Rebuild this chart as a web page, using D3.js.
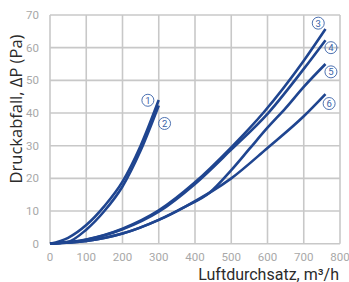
<!DOCTYPE html>
<html>
<head>
<meta charset="utf-8">
<script src="https://cdn.jsdelivr.net/npm/d3@7"></script>
<style>
body{margin:0;background:#fff;}
.grid line{stroke:#c8c8c8;stroke-width:1.6;}
.tick-label{font-family:Roboto,sans-serif;font-size:11.5px;fill:#a8a8a8;}
.curve{fill:none;stroke:#1f4590;stroke-width:2.6;}
.title{font-family:"Open Sans",sans-serif;fill:#2b2b2b;}
.tag circle{fill:none;stroke:#3a62a8;stroke-width:0.9;}
.tag text{font-family:Roboto,sans-serif;font-size:9.5px;fill:#3a62a8;}
</style>
</head>
<body>
<div id="chart"></div>
<script>
//data: airflow (m3/h) vs pressure drop (Pa)
var xTicks = [0,100,200,300,400,500,600,700,800],
	yTicks = [0,10,20,30,40,50,60,70];

var flow1 = [0,50,100,150,200,250,300],
	drop1 = [0,1.8,5.7,11.5,19,30,44];
var flow2 = [0,50,100,150,200,250,300],
	drop2 = [0,0.6,4.3,10,17.5,28.5,42.3];
var flow3 = [0,100,200,300,400,500,588,700,760],
	drop3 = [0,1.3,4.6,10.2,18.8,29.5,40,56,65.7];
var flow4 = [0,100,200,300,400,500,602,700,760],
	drop4 = [0,1.2,4.4,9.8,18.3,28.8,40,53.5,62.3];
var flow5 = [0,100,200,300,372,440,500,550,600,650,700,760],
	drop5 = [0,0.8,3.1,7.3,11.3,15.6,22.5,29,35.5,41.5,48,55];
var flow6 = [0,100,200,300,372,500,600,700,760],
	drop6 = [0,0.8,3.1,7.3,11.3,20,29.3,39,45.8];

var labels = ['1','2','3','4','5','6'];
//label anchor in data units
var labelX = [270,316,740,775,775,770],
	labelY = [43.9,36.8,67.5,60,52.6,42.9];

var series = [[flow1,drop1],[flow2,drop2],[flow3,drop3],[flow4,drop4],[flow5,drop5],[flow6,drop6]];

var W = 349, H = 282,
	m = {t:15,r:9,b:38.3,l:50},
	w = W - m.l - m.r,
	h = H - m.t - m.b;

var svg = d3.select('#chart').append('svg')
	.attr('width',W)
	.attr('height',H);
var plot = svg.append('g')
	.attr('transform','translate('+m.l+','+m.t+')');

var scaleX = d3.scaleLinear().domain([0,800]).range([0,w]),
	scaleY = d3.scaleLinear().domain([0,70]).range([h,0]);

//grid
var grid = plot.append('g').attr('class','grid');
grid.selectAll('.gx').data(xTicks).enter()
	.append('line').attr('class','gx')
	.attr('x1',function(d){return scaleX(d)})
	.attr('x2',function(d){return scaleX(d)})
	.attr('y1',0).attr('y2',h);
grid.selectAll('.gy').data(yTicks).enter()
	.append('line').attr('class','gy')
	.attr('y1',function(d){return scaleY(d)})
	.attr('y2',function(d){return scaleY(d)})
	.attr('x1',0).attr('x2',w);

//tick labels
plot.selectAll('.tx').data(xTicks).enter()
	.append('text').attr('class','tick-label tx')
	.attr('x',function(d){return scaleX(d)})
	.attr('y',h+17.5)
	.attr('text-anchor','middle')
	.text(function(d){return d});
plot.selectAll('.ty').data(yTicks).enter()
	.append('text').attr('class','tick-label ty')
	.attr('x',-11)
	.attr('y',function(d){return scaleY(d)+4})
	.attr('text-anchor','end')
	.text(function(d){return d});

//curves
var line = d3.line()
	.x(function(d){return scaleX(d[0])})
	.y(function(d){return scaleY(d[1])})
	.curve(d3.curveMonotoneX);

plot.selectAll('.curve').data(series).enter()
	.append('path').attr('class','curve')
	.attr('d',function(s){
		return line(s[0].map(function(x,i){return [x,s[1][i]]}));
	});

//numbered tags
var tags = plot.selectAll('.tag').data(labels).enter()
	.append('g').attr('class','tag')
	.attr('transform',function(d,i){return 'translate('+scaleX(labelX[i])+','+scaleY(labelY[i])+')'});
tags.append('circle').attr('r',6);
tags.append('text')
	.attr('text-anchor','middle')
	.attr('dy',3.4)
	.text(function(d){return d});

//axis titles
svg.append('text').attr('class','title')
	.attr('x',m.l+w-1)
	.attr('y',279.5)
	.attr('text-anchor','end')
	.style('font-size','16px')
	.style('font-family','Roboto, sans-serif')
	.text('Luftdurchsatz, m³/h');
svg.append('text').attr('class','title')
	.attr('transform','translate(21.5,109) rotate(-90)')
	.attr('text-anchor','middle')
	.style('font-size','16.5px')
	.text('Druckabfall, ΔP (Pa)');
</script>
</body>
</html>
